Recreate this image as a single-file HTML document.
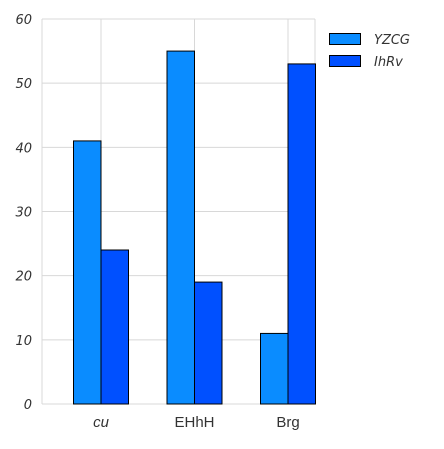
<!DOCTYPE html>
<html><head><meta charset="utf-8"><style>
body{margin:0;background:#fff}
svg text{font-family:"DejaVu Sans","Liberation Sans",sans-serif;fill:#333}
</style></head><body>
<svg id="chart" width="444" height="444" xmlns="http://www.w3.org/2000/svg">
<g id="grid"></g>
<g id="bars"></g>
<g id="axes"></g>
<g>
<rect x="329.5" y="33.5" width="31" height="11" fill="#0a8cff" stroke="#000" stroke-width="1"/>
<text x="374" y="44" font-size="13" font-style="italic">YZCG</text>
<rect x="329.5" y="55.5" width="31" height="11" fill="#0050ff" stroke="#000" stroke-width="1"/>
<text x="374" y="66" font-size="13" font-style="italic">IhRv</text>
</g>
</svg>
<script>
const categories=["cu","EHhH","Brg"];
const seriesYZCG=[41,55,11];
const seriesIhRv=[24,19,53];
const yTicks=[0,10,20,30,40,50,60];
const colors=["#0a8cff","#0050ff"];
const L=42,R=315,T=19,B=404,yMax=60;
const y=v=>B-(v/yMax)*(B-T);
const step=93.5;
const cx=i=>L+59+step*i;
const bw=27.5;
const ns="http://www.w3.org/2000/svg";
function mk(t,a,p){const e=document.createElementNS(ns,t);for(const k in a)e.setAttribute(k,a[k]);p.appendChild(e);return e;}
const grid=document.getElementById('grid'),bars=document.getElementById('bars'),axes=document.getElementById('axes');
yTicks.forEach(v=>{
  const l=mk('line',{x1:L,x2:R,y1:y(v),y2:y(v),stroke:'#d8d8d8','stroke-width':1},grid);
  
  
  const t=mk('text',{x:L-10,y:y(v)+5,'text-anchor':'end','font-size':13,'font-style':'italic'},axes);
  t.textContent=v;
  
  
});
categories.forEach((c,i)=>{
  const l=mk('line',{x1:cx(i),x2:cx(i),y1:T,y2:B,stroke:'#d8d8d8','stroke-width':1},grid);
  
  
  [seriesYZCG,seriesIhRv].forEach((s,j)=>{
    const x=j===0?cx(i)-bw:cx(i);
    const r=mk('rect',{x:x,y:y(s[i]),width:bw,height:B-y(s[i]),fill:colors[j],stroke:'#000','stroke-width':1},bars);
    
    
  });
  const t=mk('text',{x:cx(i),y:B+23,'text-anchor':'middle','font-size':15,'font-style':i===0?'italic':'normal'},axes);
  t.setAttribute('style','font-family:"Liberation Sans",sans-serif');
  t.textContent=c;
  
  
});
const rb=mk('line',{x1:R,x2:R,y1:T,y2:B,stroke:'#d8d8d8','stroke-width':1},grid);


const lb=mk('line',{x1:L,x2:L,y1:T,y2:B,stroke:'#d8d8d8','stroke-width':1},grid);


</script>
</body></html>
